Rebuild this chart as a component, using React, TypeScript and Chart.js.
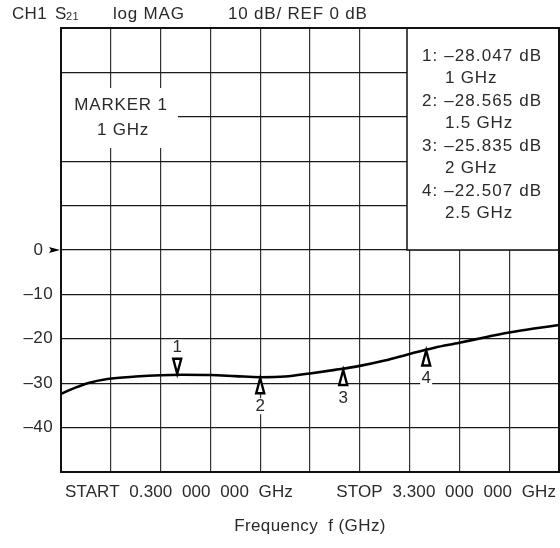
import React, { useEffect, useRef } from "react";
import { Chart, registerables } from "chart.js";

Chart.register(...registerables);

// Trace S21 (dB) versus frequency (GHz)
const freqGHz = [0.3, 0.38, 0.46, 0.58, 0.75, 0.9, 1.03, 1.2, 1.35, 1.5, 1.65, 1.8, 1.95, 2.1, 2.25, 2.4, 2.55, 2.7, 2.85, 3.0, 3.15, 3.3];
const s21dB = [-32.4, -31.1, -30.0, -29.05, -28.5, -28.2, -28.1, -28.15, -28.4, -28.65, -28.5, -27.8, -27.0, -26.1, -24.9, -23.4, -22.0, -20.9, -19.7, -18.6, -17.7, -16.9];

// Markers
const markerFreqGHz = [1, 1.5, 2, 2.5];
const markerTraceDb = [-28.1, -28.65, -26.8, -22.4];
const markerNames = ["1", "2", "3", "4"];
const markerReadout = ["–28.047 dB", "–28.565 dB", "–25.835 dB", "–22.507 dB"];
const markerFreqLabels = ["1 GHz", "1.5 GHz", "2 GHz", "2.5 GHz"];

// Axis labels
const yTickValues = [0, -10, -20, -30, -40];
const yTickLabels = ["0", "–10", "–20", "–30", "–40"];
const startLabel = "START  0.300  000  000  GHz";
const stopLabel = "STOP  3.300  000  000  GHz";
const xTitle = "Frequency  f (GHz)";

const FONT = '"Liberation Sans", Arial, Helvetica, sans-serif';
const TEXT = "#2a2a2a";
const FS = 17;

function txt(ctx: CanvasRenderingContext2D, s: string, x: number, y: number, size: number, align: CanvasTextAlign = "left", spacing = 0.5) {
  ctx.save();
  ctx.font = `${size}px ${FONT}`;
  (ctx as any).letterSpacing = `${spacing}px`;
  ctx.fillStyle = TEXT;
  ctx.textAlign = align;
  ctx.textBaseline = "middle";
  ctx.fillText(s, x, y);
  const w = ctx.measureText(s).width;
  ctx.restore();
  return w;
}

const decorPlugin = {
  id: "decor",
  beforeDatasetsDraw(chart: any) {
    const ctx: CanvasRenderingContext2D = chart.ctx;
    const a = chart.chartArea;
    ctx.save();
    // marker 1 info (white patch over grid)
    ctx.fillStyle = "#fff";
    ctx.fillRect(a.left + 1, 88, 116, 60);
    // readout box
    const bx = 407;
    ctx.fillRect(bx, a.top, a.right - bx, 250 - a.top);
    ctx.strokeStyle = "#111";
    ctx.lineWidth = 1.5;
    ctx.strokeRect(bx, a.top, a.right - bx, 250 - a.top);
    ctx.restore();
    txt(ctx, "MARKER 1", 121, 105, FS, "center", 0.8);
    txt(ctx, "1 GHz", 123, 130, FS, "center", 0.8);
    for (let i = 0; i < markerReadout.length; i++) {
      const y0 = 56 + i * 45;
      txt(ctx, `${markerNames[i]}: ${markerReadout[i]}`, 422, y0, FS, "left", 1.1);
      txt(ctx, markerFreqLabels[i], 445, y0 + 22.4, FS, "left", 0.8);
    }
  },
  afterDatasetsDraw(chart: any) {
    const ctx: CanvasRenderingContext2D = chart.ctx;
    const xs = chart.scales.x;
    const ys = chart.scales.y;
    for (let i = 0; i < markerFreqGHz.length; i++) {
      const px = xs.getPixelForValue(markerFreqGHz[i]);
      const py = ys.getPixelForValue(markerTraceDb[i]);
      const down = i === 0;
      const h = 16;
      const hw = 4;
      ctx.save();
      ctx.beginPath();
      if (down) {
        ctx.moveTo(px, py - 1);
        ctx.lineTo(px - hw, py - h);
        ctx.lineTo(px + hw, py - h);
      } else {
        ctx.moveTo(px, py + 1);
        ctx.lineTo(px - hw, py + h);
        ctx.lineTo(px + hw, py + h);
      }
      ctx.closePath();
      ctx.fillStyle = "#fff";
      ctx.fill();
      ctx.lineWidth = 2.4;
      ctx.strokeStyle = "#000";
      ctx.lineJoin = "miter";
      ctx.stroke();
      const ly = down ? py - 27 : py + 29;
      ctx.fillStyle = "#fff";
      ctx.fillRect(px - 6, ly - 8, 12, 16);
      ctx.restore();
      txt(ctx, markerNames[i], px, ly, FS, "center", 0);
    }
  },
  afterDraw(chart: any) {
    const ctx: CanvasRenderingContext2D = chart.ctx;
    const a = chart.chartArea;
    const ys = chart.scales.y;
    ctx.save();
    ctx.strokeStyle = "#111";
    ctx.lineWidth = 2;
    ctx.strokeRect(a.left, a.top, a.right - a.left, a.bottom - a.top);
    ctx.restore();
    // y labels
    for (let i = 0; i < yTickValues.length; i++) {
      const py = ys.getPixelForValue(yTickValues[i]);
      if (yTickValues[i] === 0) {
        txt(ctx, yTickLabels[i], 43, py, FS, "right", 0);
        ctx.save();
        ctx.beginPath();
        ctx.moveTo(49, py - 3);
        ctx.lineTo(a.left - 1, py);
        ctx.lineTo(49, py + 3);
        ctx.lineTo(51, py);
        ctx.closePath();
        ctx.fillStyle = "#000";
        ctx.fill();
        ctx.restore();
      } else {
        txt(ctx, yTickLabels[i], 53, py, FS, "right", 0.4);
      }
    }
    // header
    txt(ctx, "CH1", 12, 14, FS, "left", 0.3);
    txt(ctx, "S", 55, 14, FS, "left", 0.3);
    txt(ctx, "21", 66, 17, 11, "left", 0.3);
    txt(ctx, "log MAG", 113, 14, FS, "left", 0.8);
    txt(ctx, "10 dB/ REF 0 dB", 228, 14, FS, "left", 0.8);
    // bottom
    txt(ctx, startLabel, 65, 492, FS, "left", 0.1);
    txt(ctx, stopLabel, 556, 492, FS, "right", 0.1);
    txt(ctx, xTitle, 310, 526, FS, "center", 0.4);
  },
};

export default function App() {
  const ref = useRef<HTMLCanvasElement | null>(null);
  useEffect(() => {
    if (!ref.current) return;
    const grid = { color: "#333", lineWidth: 1.2, drawTicks: false };
    const chart = new Chart(ref.current, {
      type: "line",
      data: {
        datasets: [
          {
            data: freqGHz.map((f, i) => ({ x: f, y: s21dB[i] })),
            borderColor: "#000",
            borderWidth: 2.6,
            pointRadius: 0,
            cubicInterpolationMode: "monotone",
            fill: false,
          },
        ],
      },
      options: {
        animation: false,
        responsive: false,
        maintainAspectRatio: false,
        layout: { padding: { left: 61, top: 28, right: 1, bottom: 76 } },
        plugins: { legend: { display: false }, tooltip: { enabled: false } },
        scales: {
          x: {
            type: "linear",
            min: 0.3,
            max: 3.3,
            ticks: { display: false, stepSize: 0.3 },
            grid,
            border: { display: false },
            afterFit: (s: any) => {
              s.height = 0;
            },
          },
          y: {
            type: "linear",
            min: -50,
            max: 50,
            ticks: { display: false, stepSize: 10 },
            grid: { ...grid, color: "#1a1a1a" },
            border: { display: false },
            afterFit: (s: any) => {
              s.width = 0;
            },
          },
        },
      } as any,
      plugins: [decorPlugin],
    });
    return () => chart.destroy();
  }, []);
  return (
    <div style={{ position: "fixed", left: 0, top: 0, width: 560, height: 548, background: "#fff" }}>
      <canvas ref={ref} width={560} height={548} style={{ display: "block", width: 560, height: 548 }} />
    </div>
  );
}
